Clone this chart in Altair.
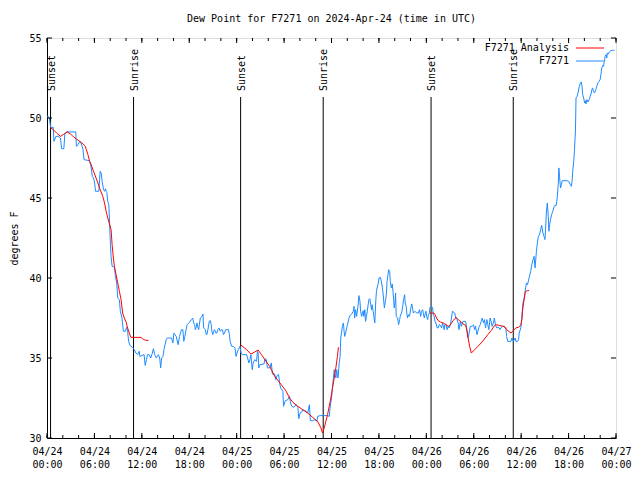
import altair as alt
import pandas as pd

FONT = "DejaVu Sans Mono"

# Observed dew point (hours since 2024-04-24 00:00 UTC, degrees F)
BLUE_H = [0.0, 0.17, 0.29, 0.46, 0.79, 0.88, 1.13, 1.42, 1.71, 1.84, 2.13, 2.26, 2.38, 2.47, 3.64, 3.72, 3.93, 4.14, 4.35, 4.56, 4.68, 5.39, 5.6,
          5.73, 5.9, 6.02, 6.15, 6.56, 6.73, 6.86, 6.98, 7.15, 7.28, 7.4, 7.48, 7.57, 7.69, 7.82, 7.9, 7.99, 8.11, 8.24, 8.53, 8.66, 8.82,
          8.95, 9.16, 9.28, 9.49, 9.66, 9.91, 10.07, 10.2, 10.33, 10.49, 10.83, 11.04, 11.25, 11.46, 11.67, 11.75, 12.08, 12.29, 12.42, 12.59,
          12.71, 12.92, 13.13, 13.33, 13.46, 13.63, 13.84, 13.96, 14.09, 14.26, 14.38, 14.51, 14.68, 14.8, 14.93, 15.09, 15.22, 15.76, 15.93,
          16.06, 16.18, 16.35, 16.6, 16.77, 16.89, 17.02, 17.19, 17.31, 17.44, 17.6, 17.73, 17.94, 18.15, 18.27, 18.44, 18.56, 18.69, 18.77,
          18.9, 18.98, 19.1, 19.19, 19.4, 19.61, 19.73, 19.82, 20.03, 20.16, 20.23, 20.36, 20.53, 20.66, 20.78, 20.86, 20.99, 21.07, 21.2,
          21.36, 21.49, 21.61, 21.78, 21.91, 22.04, 22.2, 22.33, 22.45, 22.62, 22.96, 23.08, 23.17, 23.37, 23.58, 23.79, 23.92, 24.04, 24.21,
          24.42, 24.55, 24.71, 25.26, 25.38, 25.55, 25.68, 25.8, 25.97, 26.09, 26.3, 26.51, 26.63, 26.72, 26.8, 26.93, 27.47, 27.56, 27.76,
          27.89, 28.18, 28.39, 28.52, 28.81, 28.93, 29.14, 29.31, 29.43, 29.56, 29.85, 29.93, 30.15, 30.48, 30.69, 30.81, 30.98, 31.23, 31.52,
          31.74, 31.86, 32.02, 32.24, 32.36, 32.57, 32.78, 32.99, 33.2, 33.33, 33.62, 33.91, 34.16, 34.24, 34.58, 35.5, 35.71, 35.84, 36.0,
          36.13, 36.25, 36.34, 36.42, 36.55, 36.67, 36.75, 36.84, 36.97, 37.09, 37.17, 37.38, 37.51, 37.59, 37.67, 37.93, 38.01, 38.22, 38.35,
          38.55, 38.76, 38.85, 38.93, 39.05, 39.18, 39.35, 39.47, 39.6, 39.68, 39.81, 39.93, 40.01, 40.1, 40.22, 40.31, 40.43, 40.52, 40.73,
          40.85, 40.94, 41.06, 41.14, 41.27, 41.36, 41.48, 41.61, 41.69, 41.77, 41.9, 42.02, 42.19, 42.31, 42.44, 42.52, 42.69, 42.82, 42.94,
          43.03, 43.15, 43.24, 43.36, 43.44, 43.57, 43.69, 43.78, 43.86, 43.94, 44.03, 44.11, 44.19, 44.37, 44.49, 44.62, 44.7, 44.91, 45.04,
          45.12, 45.25, 45.33, 45.45, 45.53, 45.62, 45.74, 45.87, 46.04, 46.16, 46.29, 46.37, 46.58, 46.79, 47.0, 47.13, 47.29, 47.38, 47.54,
          47.63, 47.75, 47.83, 47.96, 48.04, 48.17, 48.25, 48.38, 48.46, 48.67, 48.8, 48.88, 49.0, 49.09, 49.21, 49.38, 49.5, 49.63, 49.8,
          49.92, 50.05, 50.13, 50.26, 50.34, 50.47, 50.64, 50.77, 50.89, 51.05, 51.18, 51.3, 51.6, 51.72, 51.89, 52.02, 52.14, 52.31, 52.43,
          52.64, 52.98, 53.15, 53.27, 53.39, 53.56, 53.81, 53.98, 54.11, 54.23, 54.4, 54.53, 54.65, 54.82, 54.94, 55.07, 55.24, 55.36, 55.49,
          55.66, 55.78, 55.91, 56.07, 56.2, 56.32, 56.49, 56.61, 56.74, 56.91, 57.16, 57.33, 57.45, 57.66, 57.87, 57.99, 58.08, 58.16, 58.29,
          58.71, 58.83, 59.0, 59.25, 59.33, 59.54, 59.67, 59.75, 59.96, 60.09, 60.17, 60.25, 60.38, 60.5, 60.67, 60.8, 61.0, 61.21, 61.34,
          61.51, 61.63, 61.76, 61.93, 62.05, 62.18, 62.34, 62.47, 62.59, 62.76, 62.89, 63.01, 63.1, 63.18, 63.31, 63.43, 63.51, 63.6, 63.72,
          63.85, 64.01, 64.14, 64.26, 64.44, 64.56, 64.69, 64.77, 64.85, 64.98, 65.1, 65.19, 65.81, 66.02, 66.23, 66.36, 66.44, 66.52, 66.65,
          66.74, 66.82, 66.86, 66.9, 66.94, 67.07, 67.19, 67.36, 67.49, 67.61, 67.7, 67.78, 67.91, 68.03, 68.11, 68.2, 68.32, 68.45, 68.61,
          68.74, 68.87, 68.95, 69.03, 69.15, 69.28, 69.45, 69.57, 69.7, 69.87, 69.99, 70.12, 70.2, 70.33, 70.41, 70.54, 70.62, 70.75, 70.83,
          70.91, 71.04, 71.16, 71.25, 71.37, 71.54, 71.8]
BLUE_V = [50.1, 50.1, 50.0, 49.42, 49.42, 48.54, 48.85, 48.85, 48.75, 48.08, 48.08, 49.0, 49.06, 49.13, 49.13, 48.23, 48.33, 48.54, 48.38, 48.02, 47.4, 47.33, 46.88,
          46.35, 46.25, 45.94, 45.42, 45.42, 46.67, 46.56, 46.04, 45.52, 45.42, 45.58, 45.42, 45.35, 44.79, 44.58, 43.75, 42.5, 41.35, 40.73, 40.67, 40.1, 39.69,
          38.75, 38.65, 37.92, 37.5, 36.67, 36.67, 36.92, 36.67, 36.04, 35.79, 35.67, 35.52, 35.31, 35.21, 35.42, 35.1, 35.17, 35.21, 34.54, 34.9,
          35.21, 35.21, 35.0, 35.31, 35.58, 35.21, 35.0, 35.1, 35.21, 35.0, 34.38, 35.0, 35.1, 35.52, 35.83, 36.15, 36.25, 36.25, 35.94,
          36.56, 36.46, 36.35, 35.83, 36.35, 36.56, 36.77, 36.77, 36.04, 36.35, 36.77, 37.08, 37.19, 37.29, 37.4, 37.5, 37.19, 37.08, 36.77,
          36.98, 37.19, 36.88, 36.77, 37.5, 37.6, 37.75, 36.88, 36.77, 36.46, 36.46, 36.77, 37.29, 37.35, 37.08, 36.67, 36.46, 36.67, 36.77,
          36.56, 36.56, 36.77, 36.88, 36.67, 36.77, 36.77, 36.46, 36.56, 36.77, 36.77, 36.46, 36.04, 35.73, 35.73, 35.63, 35.1, 35.31, 35.52,
          35.73, 35.31, 35.21, 35.21, 35.0, 34.69, 34.9, 35.21, 34.27, 34.69, 34.9, 34.79, 35.42, 35.31, 34.38, 34.58, 34.63, 34.96, 34.9,
          34.38, 34.38, 34.69, 34.0, 34.0, 33.65, 33.92, 33.96, 33.44, 33.13, 32.92, 31.98, 32.33, 32.4, 32.6, 32.19, 31.98, 31.92, 32.08,
          31.92, 31.21, 31.56, 31.63, 31.77, 31.71, 31.67, 31.56, 32.08, 31.08, 31.08, 31.15, 31.04, 31.35, 31.4, 31.4, 31.35, 31.98, 32.5,
          33.17, 33.79, 34.27, 34.06, 33.75, 34.27, 33.85, 33.75, 34.69, 35.1, 36.25, 36.98, 37.19, 36.67, 36.35, 36.88, 37.08, 37.5, 37.67,
          37.75, 37.92, 38.23, 37.5, 38.02, 37.6, 38.23, 38.9, 38.54, 37.92, 37.6, 37.81, 37.96, 37.6, 38.02, 37.29, 37.6, 37.92, 38.65,
          38.71, 38.44, 38.02, 38.33, 37.92, 37.6, 37.19, 38.65, 39.17, 39.38, 39.63, 40.0, 40.04, 39.79, 39.38, 39.06, 38.13, 38.54, 38.96,
          39.79, 40.21, 40.52, 40.42, 39.79, 39.38, 39.63, 39.17, 38.65, 38.13, 38.44, 39.06, 37.6, 37.5, 37.08, 37.4, 37.6, 37.92, 38.33,
          38.65, 38.96, 38.44, 38.23, 37.81, 37.5, 37.71, 37.6, 38.13, 38.38, 38.02, 37.81, 37.92, 37.81, 37.81, 38.02, 37.6, 37.92, 38.02,
          37.75, 37.5, 37.71, 37.92, 37.6, 37.4, 37.67, 37.81, 38.17, 38.23, 38.13, 37.67, 37.6, 37.29, 37.19, 36.88, 36.88, 37.08, 37.02,
          36.88, 37.19, 37.04, 36.77, 37.08, 37.13, 36.77, 36.98, 36.88, 37.08, 37.5, 37.92, 37.81, 37.5, 37.4, 37.19, 36.77, 37.29, 36.98,
          37.29, 37.29, 36.67, 36.25, 36.5, 36.98, 36.98, 37.08, 36.77, 36.98, 36.46, 36.67, 36.92, 37.08, 37.29, 37.5, 37.19, 37.4, 36.88,
          37.4, 37.08, 36.77, 37.5, 37.29, 36.98, 37.19, 37.5, 37.08, 36.88, 36.92, 36.77, 36.88, 36.98, 36.98, 36.88, 36.77, 36.35, 36.04,
          36.04, 36.25, 36.04, 36.25, 36.04, 36.04, 36.15, 36.56, 36.88, 37.5, 38.13, 38.54, 38.75, 39.17, 39.69, 39.58, 40.0, 40.42, 40.83,
          41.15, 41.35, 40.63, 41.67, 42.19, 42.6, 42.75, 43.02, 43.29, 42.81, 42.6, 42.4, 43.13, 44.06, 44.69, 43.85, 42.92, 43.33, 43.65,
          43.96, 44.17, 44.42, 44.54, 44.54, 45.0, 45.83, 46.88, 46.35, 45.63, 45.83, 46.08, 46.08, 46.04, 45.83, 45.73, 46.04, 46.67, 47.29,
          47.92, 48.75, 49.06, 50.0, 51.25, 51.35, 51.56, 51.98, 52.19, 52.25, 51.98, 51.46, 51.25, 50.94, 51.08, 50.88, 51.15, 51.0, 51.15,
          51.35, 51.56, 51.77, 51.88, 51.67, 51.56, 51.77, 51.98, 52.19, 52.29, 52.4, 52.81, 53.13, 53.29, 53.23, 53.54, 53.85, 53.96, 53.75,
          54.06, 54.0, 54.13, 54.17, 54.21, 54.23, 54.23]

# Analysis series, three separate segments
RED1_H = [0.38, 0.79, 1.21, 1.71, 2.05, 2.55, 2.97, 3.3, 3.72, 4.14, 4.56, 4.85, 4.98, 5.18, 5.39, 5.6, 5.81, 6.02, 6.44, 6.65, 7.06,
          7.28, 7.48, 7.69, 8.11, 8.24, 8.4, 8.53, 8.74, 8.95, 9.16, 9.37, 9.57, 9.78, 9.99, 10.2, 10.41, 10.62, 11.88, 12.08, 12.29, 12.5, 12.83]
RED1_V = [49.42, 49.27, 49.06, 48.85, 48.96, 49.13, 49.0, 48.85, 48.69, 48.54, 48.38, 48.23, 48.02, 47.71, 47.29, 47.08, 46.77, 46.5, 45.94, 45.63, 45.1,
          44.69, 44.17, 43.75, 43.02, 42.08, 41.25, 40.73, 40.21, 39.69, 39.17, 38.65, 37.81, 37.5, 37.29, 36.88, 36.56, 36.29, 36.29, 36.21, 36.15, 36.1, 36.1]
RED2_H = [24.5, 25.26, 25.8, 26.3, 26.72, 27.13, 27.56, 28.18, 28.81, 29.65, 30.27, 30.69, 31.11, 31.74, 32.36, 32.99, 33.62, 34.24, 34.66,
          34.87, 35.08, 35.29, 35.5, 35.71, 35.92, 36.13, 36.34, 36.55, 36.75, 36.88]
RED2_V = [35.83, 35.52, 35.25, 35.38, 35.5, 35.21, 34.9, 34.48, 33.85, 33.33, 32.92, 32.5, 32.23, 31.98, 31.77, 31.56, 31.29, 31.04, 30.63,
          30.31, 30.63, 31.04, 31.46, 31.98, 32.5, 33.13, 33.75, 34.38, 35.1, 35.67]
RED3_H = [48.46, 48.96, 49.09, 49.3, 49.51, 49.8, 50.13, 50.47, 50.77, 50.97, 51.18, 51.39, 51.6, 51.81, 52.02, 52.22, 52.43, 52.64, 52.98,
          53.15, 53.27, 53.48, 53.69, 54.11, 54.53, 54.94, 55.36, 55.78, 56.2, 56.61, 56.82, 57.16, 57.74, 57.99, 58.16, 58.42, 58.71, 58.92,
          59.33, 59.67, 59.83, 59.96, 60.09, 60.17, 60.25, 60.38, 60.5, 60.59, 60.8, 61.0]
RED3_V = [37.81, 37.81, 37.71, 37.5, 37.33, 37.25, 37.19, 37.08, 36.98, 37.04, 37.19, 37.33, 37.46, 37.54, 37.4, 37.33, 37.25, 37.13, 37.04,
          36.67, 36.29, 35.73, 35.31, 35.52, 35.73, 35.94, 36.19, 36.46, 36.71, 37.02, 37.08, 37.04, 36.98, 36.92, 36.77, 36.67, 36.56, 36.67,
          36.88, 36.92, 36.98, 37.08, 37.4, 37.92, 38.23, 38.65, 39.06, 39.17, 39.21, 39.21]

EVENT_H = [0.45, 10.95, 24.5, 34.95, 48.6, 59.0]
EVENT_LABEL = ["Sunset", "Sunrise", "Sunset", "Sunrise", "Sunset", "Sunrise"]

X_LABEL_TICKS = [0, 6, 12, 18, 24, 30, 36, 42, 48, 54, 60, 66, 72]
X_MINOR_TICKS = list(range(0, 73, 2))
Y_TICKS = [30, 35, 40, 45, 50, 55]

LEGEND_NAMES = ["F7271 Analysis", "F7271"]

W, H = 569, 400
BLUE = "#1e8cff"
RED = "#ff0000"
LEGEND_COLORS = [RED, BLUE]

blue_df = pd.DataFrame({"h": BLUE_H, "v": BLUE_V})
red_df = pd.concat([
    pd.DataFrame({"h": RED1_H, "v": RED1_V, "seg": 1}),
    pd.DataFrame({"h": RED2_H, "v": RED2_V, "seg": 2}),
    pd.DataFrame({"h": RED3_H, "v": RED3_V, "seg": 3}),
], ignore_index=True)
ev_df = pd.DataFrame({"h": EVENT_H, "label": EVENT_LABEL})
xmaj_df = pd.DataFrame({"h": X_LABEL_TICKS})
xmin_df = pd.DataFrame({"h": X_MINOR_TICKS})
yt_df = pd.DataFrame({"v": Y_TICKS})
leg_df = pd.DataFrame({"name": LEGEND_NAMES, "color": LEGEND_COLORS, "row": [0, 1]})

xscale = alt.Scale(domain=[0, 72], nice=False, zero=False)
yscale = alt.Scale(domain=[30, 55], nice=False, zero=False)

x_axis = alt.Axis(
    values=X_LABEL_TICKS,
    labelExpr="['04/' + format(24 + floor(datum.value / 24), '02d'), format(datum.value % 24, '02d') + ':00']",
    tickSize=0, grid=False, title=None, labelFont=FONT, labelFontSize=10, labelColor="black",
    labelPadding=8, labelLineHeight=13, labelBaseline="top", labelFlush=False, labelOverlap=False,
    domainColor="black",
)
y_axis = alt.Axis(
    values=Y_TICKS, tickSize=0, grid=False, title="degrees F", titleFont=FONT, titleFontSize=10,
    titleFontWeight="normal", titleColor="black", titlePadding=9, labelFont=FONT, labelFontSize=10,
    labelColor="black", labelPadding=6, domainColor="black",
)

X = alt.X("h:Q", scale=xscale, axis=x_axis)
Y = alt.Y("v:Q", scale=yscale, axis=y_axis)

blue = alt.Chart(blue_df).mark_line(color=BLUE, strokeWidth=1, clip=True).encode(x=X, y=Y)
red = alt.Chart(red_df).mark_line(color=RED, strokeWidth=1, clip=True).encode(
    x=alt.X("h:Q"), y=alt.Y("v:Q"), detail="seg:N")

ev_rules = alt.Chart(ev_df).mark_rule(color="black", strokeWidth=1).encode(
    x="h:Q", y=alt.value(59), y2=alt.value(H))
ev_text = alt.Chart(ev_df).mark_text(
    angle=270, align="left", baseline="middle", font=FONT, fontSize=10, color="black", dy=1
).encode(x="h:Q", y=alt.value(53), text="label:N")

xt_bot_min = alt.Chart(xmin_df).mark_rule(color="black").encode(x="h:Q", y=alt.value(H), y2=alt.value(H - 3))
xt_top_min = alt.Chart(xmin_df).mark_rule(color="black").encode(x="h:Q", y=alt.value(0), y2=alt.value(3))
xt_bot_maj = alt.Chart(xmaj_df).mark_rule(color="black").encode(x="h:Q", y=alt.value(H), y2=alt.value(H - 5))
xt_top_maj = alt.Chart(xmaj_df).mark_rule(color="black").encode(x="h:Q", y=alt.value(0), y2=alt.value(5))
yt_left = alt.Chart(yt_df).mark_rule(color="black").encode(y="v:Q", x=alt.value(0), x2=alt.value(5))
yt_right = alt.Chart(yt_df).mark_rule(color="black").encode(y="v:Q", x=alt.value(W), x2=alt.value(W - 5))

leg_y = alt.Y("row:Q", axis=None, scale=alt.Scale(domain=[0, 1], range=[10, 23], zero=False, nice=False))
leg_text = alt.Chart(leg_df).mark_text(
    align="right", baseline="middle", font=FONT, fontSize=10, color="black"
).encode(x=alt.value(W - 47), y=leg_y, text="name:N")
leg_line = alt.Chart(leg_df).mark_rule(strokeWidth=1).encode(
    x=alt.value(W - 40), x2=alt.value(W - 12), y=leg_y,
    color=alt.Color("color:N", scale=None, legend=None),
)

chart = alt.layer(
    ev_rules, blue, red, ev_text,
    xt_bot_min, xt_top_min, xt_bot_maj, xt_top_maj, yt_left, yt_right,
)

legend = alt.layer(leg_text, leg_line)

final = alt.layer(chart, legend).resolve_scale(y="independent").properties(
    width=W, height=H,
    title=alt.TitleParams(
        "Dew Point for F7271 on 2024-Apr-24 (time in UTC)", font=FONT, fontSize=10,
        fontWeight="normal", color="black", anchor="middle", offset=9,
    ),
    autosize=alt.AutoSizeParams(type="none"),
    padding={"left": 39, "top": 30, "right": 16, "bottom": 30},
).configure_view(stroke="black", strokeWidth=1).configure(background="white")

final.save("out.html", embed_options={"renderer": "svg", "actions": False})
